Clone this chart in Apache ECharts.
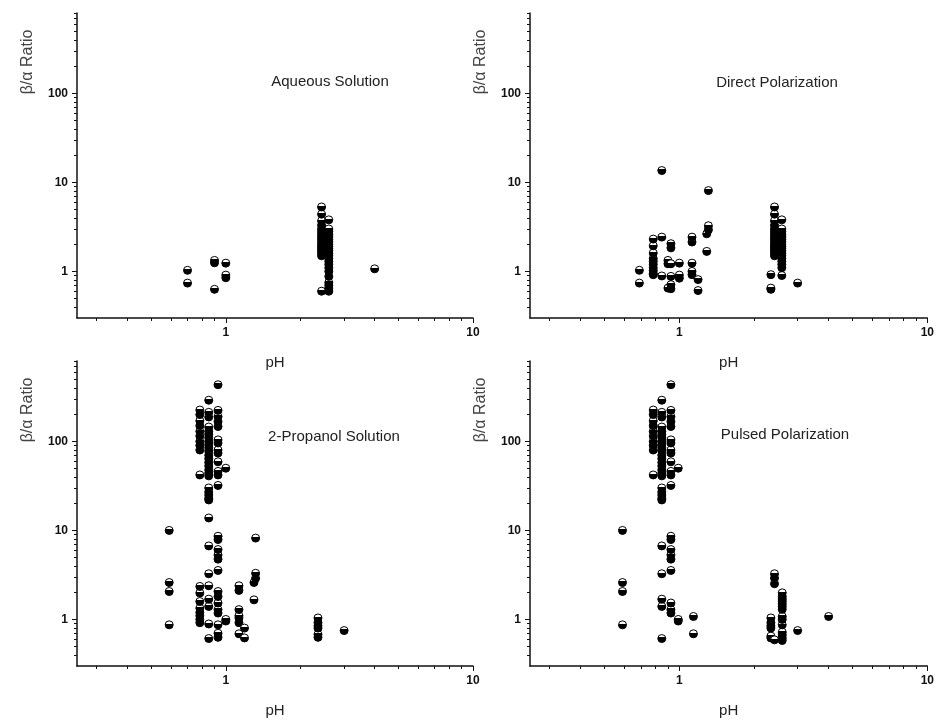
<!DOCTYPE html>
<html>
<head>
<meta charset="utf-8">
<title>β/α Ratio vs pH</title>
<script src="https://cdn.jsdelivr.net/npm/echarts@6.0.0/dist/echarts.min.js"></script>
<style>
  html, body { margin: 0; padding: 0; background: #fff; }
  #chart { width: 937px; height: 721px; }
</style>
</head>
<body>
<div id="chart"></div>
<script>
// panel titles, in order TL, TR, BL, BR
const panelTitles = ['Aqueous Solution', 'Direct Polarization', '2-Propanol Solution', 'Pulsed Polarization'];

// tick values
const xMajorTicks = [1, 10];
const xMinorTicks = [0.3, 0.4, 0.5, 0.6, 0.7, 0.8, 0.9, 2, 3, 4, 5, 6, 7, 8, 9];
const yMajorTicks = [1, 10, 100];
const yMinorTicks = [0.4, 0.5, 0.6, 0.7, 0.8, 0.9, 2, 3, 4, 5, 6, 7, 8, 9,
  20, 30, 40, 50, 60, 70, 80, 90, 200, 300, 400, 500, 600, 700, 800];

// data: [pH, [beta/alpha ratios at that pH]]
const aqueous = [
  [0.70, [1.03, 0.74]],
  [0.90, [1.33, 1.25, 0.63]],
  [1.00, [1.24, 0.91, 0.85]],
  [2.44, [5.3, 4.4, 3.7, 3.3, 3.0, 2.8, 2.6, 2.45, 2.3, 2.15, 2.0, 1.9, 1.8, 1.7, 1.6, 1.5, 0.6]],
  [2.61, [3.8, 3.0, 2.8, 2.6, 2.45, 2.3, 2.15, 2.0, 1.9, 1.8, 1.7, 1.6, 1.5, 1.4, 1.3, 1.2, 1.1, 1.0, 0.88, 0.75, 0.7, 0.65, 0.6]],
  [4.00, [1.07]]
];

const direct = [
  [0.69, [1.03, 0.74]],
  [0.785, [2.31, 1.94, 1.61, 1.4, 1.3, 1.2, 1.1, 1.02, 0.95, 0.92]],
  [0.85, [13.6, 2.43, 0.89]],
  [0.90, [1.33, 1.22, 0.65]],
  [0.925, [2.05, 1.84, 1.22, 0.88, 0.71, 0.64]],
  [1.00, [1.24, 0.91, 0.84]],
  [1.125, [2.43, 2.14, 1.24, 1.0, 0.92]],
  [1.19, [0.81, 0.61]],
  [1.29, [2.65, 1.68]],
  [1.31, [8.1, 3.26, 2.94]],
  [2.34, [0.92, 0.65, 0.63]],
  [2.42, [5.3, 4.4, 3.7, 3.3, 3.0, 2.8, 2.6, 2.45, 2.3, 2.15, 2.0, 1.9, 1.8, 1.7, 1.6, 1.5]],
  [2.59, [3.8, 3.0, 2.8, 2.6, 2.45, 2.3, 2.15, 2.0, 1.9, 1.8, 1.7, 1.6, 1.5, 1.4, 1.3, 1.2, 1.1, 0.9]],
  [3.00, [0.74]]
];

const propanol = [
  [0.59, [10.0, 2.6, 2.06, 0.87]],
  [0.785, [225, 200, 170, 150, 130, 115, 100, 90, 80, 42, 2.35, 1.98, 1.59, 1.34, 1.2, 1.1, 1.0, 0.92]],
  [0.853, [290, 212, 188, 145, 130, 120, 110, 100, 92, 85, 78, 70, 64, 58, 53, 48, 44, 41,
    30, 27, 25, 23, 22, 13.8, 6.7, 3.26, 2.39, 1.69, 1.40, 0.89, 0.61]],
  [0.93, [433, 223, 190, 167, 147, 104, 96, 80, 74, 59, 46, 42, 32,
    8.6, 7.9, 6.1, 5.3, 4.76, 3.55, 2.06, 1.81, 1.53, 1.29, 1.18, 0.87, 0.70, 0.63]],
  [1.00, [50, 1.0, 0.96]],
  [1.13, [2.39, 2.12, 1.29, 1.1, 1.04, 0.92, 0.69]],
  [1.19, [0.80, 0.62]],
  [1.30, [2.6, 1.66]],
  [1.32, [8.2, 3.3, 2.9]],
  [2.36, [1.04, 0.92, 0.85, 0.80, 0.68, 0.63]],
  [3.01, [0.75]]
];

const pulsed = [
  [0.59, [10.0, 2.6, 2.06, 0.87]],
  [0.785, [225, 200, 170, 150, 130, 115, 100, 90, 80, 42]],
  [0.85, [290, 212, 188, 145, 130, 120, 110, 100, 92, 85, 78, 70, 64, 58, 53, 48, 44, 41,
    30, 27, 25, 23, 22, 6.7, 3.26, 1.69, 1.40, 0.61]],
  [0.925, [433, 223, 190, 167, 147, 104, 96, 80, 74, 59, 46, 42, 32,
    8.6, 7.9, 6.1, 5.3, 4.76, 3.55, 1.53, 1.29, 1.18]],
  [0.99, [50, 1.0, 0.96]],
  [1.14, [1.08, 0.69]],
  [2.34, [1.04, 0.92, 0.85, 0.80, 0.65, 0.62]],
  [2.42, [3.26, 2.92, 2.52, 0.59]],
  [2.60, [1.99, 1.81, 1.7, 1.6, 1.5, 1.4, 1.3, 1.08, 1.0, 0.87, 0.72, 0.67, 0.62, 0.58]],
  [3.00, [0.75]],
  [4.00, [1.08]]
];

const panels = [aqueous, direct, propanol, pulsed];

const xMin = 0.25, xMax = 10;
const yMin = 0.3, yMax = 800;

// grid boxes
const grids = [
  { left: 77, top: 13, width: 396, height: 305 },
  { left: 530, top: 13, width: 398, height: 305 },
  { left: 77, top: 361, width: 396, height: 305 },
  { left: 530, top: 361, width: 398, height: 305 }
];
const titlePos = [[330, 82], [777, 83], [334, 437], [785, 435]];

const ink = '#111';
const labelFont = { color: ink, fontSize: 12, fontWeight: 'bold', fontFamily: 'Liberation Sans, Arial, sans-serif' };

const dotColor = {
  type: 'linear', x: 0, y: 0, x2: 0, y2: 1,
  colorStops: [
    { offset: 0, color: '#fff' },
    { offset: 0.36, color: '#fff' },
    { offset: 0.36, color: '#000' },
    { offset: 1, color: '#000' }
  ]
};

// lower points first so each dot covers the white cap of the one below
function flatten(cols) {
  const out = [];
  cols.forEach(function (c) {
    c[1].slice().sort(function (a, b) { return a - b; })
      .forEach(function (v) { out.push([c[0], v]); });
  });
  return out;
}

const log10 = Math.log10;
const xAxis = [], yAxis = [], series = [], graphic = [];

grids.forEach(function (g, i) {
  // main log axes (data scale + labels)
  xAxis.push({
    type: 'log', logBase: 10, gridIndex: i, min: xMin, max: xMax,
    name: 'pH', nameLocation: 'middle', nameGap: 37,
    nameTextStyle: { color: '#222', fontSize: 15, fontFamily: 'Liberation Sans, Arial, sans-serif' },
    axisLine: { onZero: false, lineStyle: { color: ink, width: 1.5 } },
    axisTick: { show: false },
    axisLabel: Object.assign({ margin: 9, showMinLabel: false }, labelFont),
    splitLine: { show: false }, minorTick: { show: false }
  });
  yAxis.push({
    type: 'log', logBase: 10, gridIndex: i, min: yMin, max: yMax,
    axisLine: { onZero: false, lineStyle: { color: ink, width: 1.5 } },
    axisTick: { show: false },
    axisLabel: Object.assign({ margin: 9, showMinLabel: false, showMaxLabel: false }, labelFont),
    splitLine: { show: false }, minorTick: { show: false }
  });
  // tick-only axes in log10 space, major and minor
  [[xMajorTicks, 5], [xMinorTicks, 3]].forEach(function (t) {
    xAxis.push({
      type: 'value', gridIndex: i, position: 'bottom', min: log10(xMin), max: log10(xMax),
      axisLine: { show: false, onZero: false },
      axisTick: { show: true, length: t[1], customValues: t[0].map(log10), lineStyle: { color: ink, width: 1 } },
      axisLabel: { show: false }, splitLine: { show: false }
    });
  });
  [[yMajorTicks, 5], [yMinorTicks, 3]].forEach(function (t) {
    yAxis.push({
      type: 'value', gridIndex: i, position: 'left', min: log10(yMin), max: log10(yMax),
      axisLine: { show: false, onZero: false },
      axisTick: { show: true, length: t[1], customValues: t[0].map(log10), lineStyle: { color: ink, width: 1 } },
      axisLabel: { show: false }, splitLine: { show: false }
    });
  });

  series.push({
    type: 'scatter',
    xAxisIndex: i * 3, yAxisIndex: i * 3,
    data: flatten(panels[i]),
    symbol: 'circle', symbolSize: 8,
    itemStyle: { color: dotColor, borderColor: '#000', borderWidth: 1, opacity: 1 },
    emphasis: { disabled: true },
    silent: true
  });

  graphic.push({
    type: 'text', x: titlePos[i][0], y: titlePos[i][1],
    style: {
      text: panelTitles[i], fill: '#222', fontSize: 15,
      fontFamily: 'Liberation Sans, Arial, sans-serif',
      textAlign: 'center', textVerticalAlign: 'middle'
    }
  });
  graphic.push({
    type: 'text', x: g.left - 49, y: g.top + 49, rotation: Math.PI / 2,
    style: {
      text: 'β/α Ratio', fill: '#444', fontSize: 16,
      fontFamily: 'Liberation Sans, Arial, sans-serif',
      textAlign: 'center', textVerticalAlign: 'middle'
    }
  });
});

const chart = echarts.init(document.getElementById('chart'));
chart.setOption({
  backgroundColor: '#fff',
  animation: false,
  grid: grids.map(function (g) { return Object.assign({ containLabel: false }, g); }),
  xAxis: xAxis,
  yAxis: yAxis,
  series: series,
  graphic: graphic
});
</script>
</body>
</html>
